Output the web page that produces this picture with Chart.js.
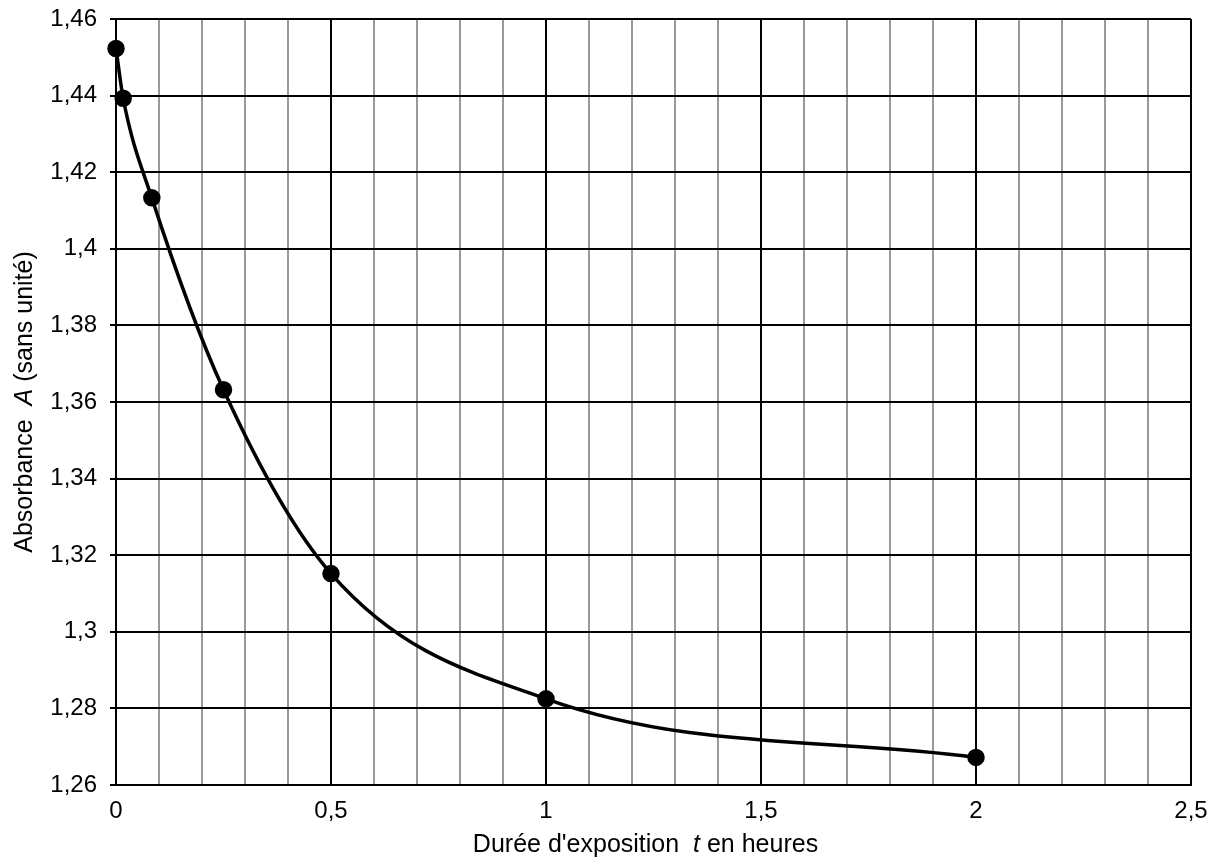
<!DOCTYPE html>
<html>
<head>
<meta charset="utf-8">
<script src="https://cdn.jsdelivr.net/npm/chart.js@4"></script>
<style>
  html, body { margin: 0; padding: 0; background: #fff; }
  #wrap { width: 1221px; height: 865px; position: relative; }
</style>
</head>
<body>
<div id="wrap"><canvas id="chart"></canvas></div>
<script>
// durée d'exposition (h) et absorbance
const durees = [0, 0.0167, 0.0833, 0.25, 0.5, 1, 2];
const absorbances = [1.4523, 1.4393, 1.4133, 1.3632, 1.3152, 1.2825, 1.2672];

const xMin = 0, xMax = 2.5, xStep = 0.1;
const yMin = 1.26, yMax = 1.46, yStep = 0.02;

const fontFamily = "'Liberation Sans', Arial, sans-serif";
const fr = (v) => String(Number(v.toFixed(2))).replace('.', ',');

// titres d'axes avec une partie en italique
const axisTitles = {
  id: 'axisTitles',
  afterDraw(chart) {
    const { ctx, chartArea } = chart;
    const parts = (list) => list.map(([t, it]) => ({ t, font: (it ? 'italic ' : '') + '25px ' + fontFamily }));
    const drawRun = (runs, cx, cy) => {
      let w = 0;
      runs.forEach((r) => { ctx.font = r.font; w += ctx.measureText(r.t).width; });
      let x = cx - w / 2;
      runs.forEach((r) => {
        ctx.font = r.font;
        ctx.fillText(r.t, x, cy);
        x += ctx.measureText(r.t).width;
      });
    };
    ctx.save();
    ctx.fillStyle = '#000';
    ctx.textBaseline = 'middle';
    ctx.textAlign = 'left';
    drawRun(parts([["Durée d'exposition  ", false], ['t', true], [' en heures', false]]),
      (chartArea.left + chartArea.right) / 2 - 8, 845);
    ctx.translate(25, 402);
    ctx.rotate(-Math.PI / 2);
    drawRun(parts([['Absorbance  ', false], ['A', true], [' (sans unité)', false]]), 0, 0);
    ctx.restore();
  },
};

new Chart(document.getElementById('chart'), {
  type: 'line',
  data: {
    datasets: [
      {
        data: durees.map((t, i) => ({ x: t, y: absorbances[i] })),
        borderColor: '#000',
        backgroundColor: '#000',
        borderWidth: 3.5,
        pointRadius: 7,
        pointBackgroundColor: '#000',
        cubicInterpolationMode: 'monotone',
        clip: false,
      },
    ],
  },
  options: {
    responsive: true,
    maintainAspectRatio: false,
    animation: false,
    layout: { padding: { top: 19, right: 30, bottom: 0, left: 0 } },
    plugins: { legend: { display: false }, tooltip: { enabled: false } },
    scales: {
      x: {
        type: 'linear',
        min: xMin,
        max: xMax,
        afterFit: (s) => { s.height = 80; },
        ticks: {
          stepSize: xStep,
          autoSkip: false,
          maxRotation: 0,
          color: '#000',
          padding: 12,
          font: { family: fontFamily, size: 24 },
          callback: (v) => {
            const r = Math.round(v * 10);
            return r % 5 === 0 ? fr(v) : '';
          },
        },
        grid: {
          drawTicks: false,
          lineWidth: 2,
          color: (c) => {
            const r = Math.round(c.tick.value * 10);
            return r % 5 === 0 ? '#000' : '#999';
          },
        },
        border: { color: '#000', width: 2 },
      },
      y: {
        min: yMin,
        max: yMax,
        afterFit: (s) => { s.width = 116; s.paddingTop = 0; s.paddingBottom = 0; },
        ticks: {
          stepSize: yStep,
          color: '#000',
          padding: 13,
          font: { family: fontFamily, size: 24 },
          callback: (v) => fr(v),
        },
        grid: { color: '#000', lineWidth: 2, tickLength: 6, tickColor: '#000' },
        border: { color: '#000', width: 2 },
      },
    },
  },
  plugins: [axisTitles],
});
</script>
</body>
</html>
